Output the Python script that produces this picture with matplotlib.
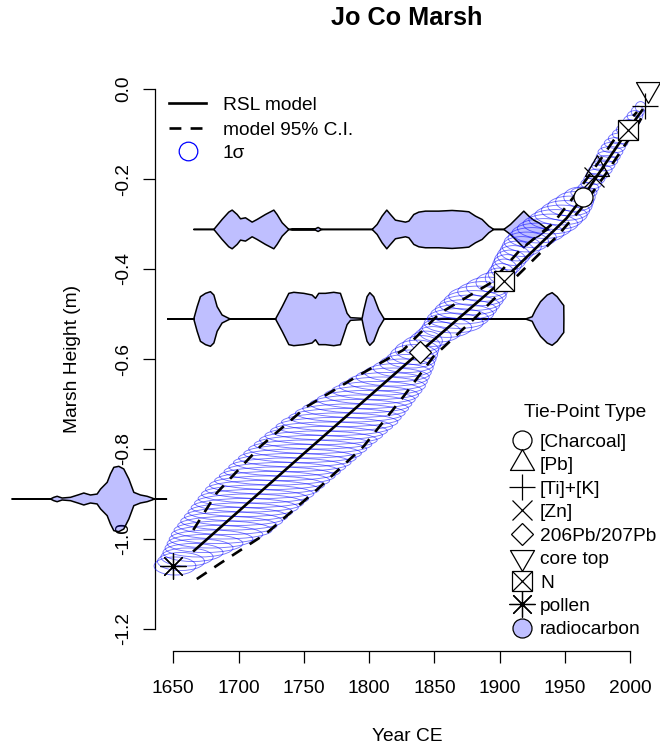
import numpy as np
import matplotlib

matplotlib.use("Agg")
import matplotlib.pyplot as plt
from matplotlib.patches import Ellipse
from matplotlib.lines import Line2D

plt.rcParams["font.family"] = ["Liberation Sans", "DejaVu Sans"]
plt.rcParams["axes.unicode_minus"] = False

W, H = 660, 744          # output size in pixels
FS = 13.8                # body text size
FILL = (0, 0, 1, 0.25)   # lavender fill of the calibrated 14C densities

# ---------------- data ----------------
# sample heights (m) with modelled age (yr CE) and 1-sigma ellipse half-axes
SAMPLE_H = [-1.06, -1.05, -1.04, -1.03, -1.02, -1.01, -1.00, -0.99, -0.98, -0.97,
            -0.96, -0.95, -0.94, -0.93, -0.92, -0.91, -0.90, -0.89, -0.88, -0.87,
            -0.86, -0.85, -0.84, -0.83, -0.82, -0.81, -0.80, -0.79, -0.78, -0.77,
            -0.76, -0.75, -0.74, -0.73, -0.72, -0.71, -0.70, -0.69, -0.68, -0.67,
            -0.66, -0.65, -0.64, -0.63, -0.62, -0.61, -0.60, -0.59, -0.58, -0.57,
            -0.56, -0.55, -0.54, -0.53, -0.52, -0.51, -0.50, -0.49, -0.48, -0.47,
            -0.46, -0.45, -0.44, -0.43, -0.42, -0.41, -0.40, -0.39, -0.38, -0.37,
            -0.36, -0.35, -0.34, -0.33, -0.32, -0.31, -0.30, -0.29, -0.28, -0.27,
            -0.26, -0.25, -0.24, -0.23, -0.22, -0.21, -0.20, -0.19, -0.18, -0.17,
            -0.16, -0.15, -0.14, -0.13, -0.12, -0.11, -0.10, -0.09, -0.08, -0.07,
            -0.06, -0.05, -0.04]
SAMPLE_AGE = [1651.3, 1655.9, 1660.5, 1665.1, 1669.7, 1674.3, 1678.9, 1683.5, 1688.1, 1691.4,
              1694.7, 1698.0, 1701.3, 1704.7, 1708.0, 1711.3, 1714.6, 1718.2, 1721.8, 1725.7,
              1729.6, 1733.4, 1737.2, 1741.1, 1745.0, 1749.0, 1752.9, 1757.0, 1761.1, 1765.2,
              1769.2, 1773.3, 1777.4, 1781.5, 1785.5, 1789.6, 1793.6, 1797.7, 1801.8, 1805.9,
              1810.0, 1814.0, 1818.0, 1822.0, 1826.0, 1829.1, 1832.2, 1834.4, 1836.6, 1840.0,
              1843.5, 1848.8, 1854.2, 1859.5, 1864.7, 1868.0, 1871.2, 1874.1, 1877.0, 1880.0,
              1882.9, 1886.8, 1890.8, 1894.8, 1898.9, 1901.1, 1903.3, 1905.6, 1908.0, 1910.6,
              1913.2, 1916.8, 1920.4, 1924.8, 1929.3, 1934.0, 1938.8, 1942.8, 1946.9, 1950.3,
              1953.7, 1957.3, 1961.0, 1964.4, 1967.8, 1970.1, 1972.4, 1974.7, 1977.0, 1979.1,
              1981.3, 1983.0, 1984.7, 1986.8, 1989.0, 1991.6, 1994.2, 1996.7, 1999.2, 2001.3,
              2003.5, 2005.6, 2007.8]
SAMPLE_AGE_SD = [16, 18, 20, 23, 26, 29, 32, 35, 37.5, 38,
                 39, 39.5, 40, 41, 41.7, 42.3, 43, 43.5, 44, 44,
                 44.3, 44.5, 44.7, 45, 45, 45, 45.2, 45, 45, 45,
                 44.7, 44.6, 44.5, 43, 42, 40.5, 39, 37.5, 36, 34.5,
                 33, 30.5, 28, 25.5, 23, 21, 19, 18, 16.6, 14.5,
                 12.5, 14, 16, 19, 22.6, 23.5, 24, 23.5, 23, 22.5,
                 22, 19, 16.5, 13, 10, 10, 10, 11, 12, 12.5,
                 13, 15, 17, 18.5, 20, 20.5, 21, 20.5, 20, 18.5,
                 17, 14.5, 12, 10, 8, 8, 8, 8.5, 9, 9,
                 9, 9.2, 9.5, 9.2, 9, 8.5, 8, 7.5, 7, 6.5,
                 6, 5, 4]
SAMPLE_H_SD = [0.020] * 47 + [0.022] * 36 + [0.012] * 20

# RSL model and its 95% interval
RSL_YEAR = [1665.9, 1750.0, 1838.9, 1902.7, 1951.2, 1963.7, 1998.2, 2009.0]
RSL_H = [-1.026, -0.810, -0.584, -0.424, -0.287, -0.240, -0.091, -0.047]
UPPER_YEAR = [1665.3, 1683.2, 1716.4, 1752.1, 1790.4, 1826.1, 1854.2, 1892.5, 1915.5,
              1941.0, 1957.6, 1976.8, 1993.6, 2005.1]
UPPER_H = [-0.980, -0.898, -0.795, -0.706, -0.639, -0.580, -0.498, -0.432, -0.358,
           -0.298, -0.236, -0.158, -0.087, -0.051]
LOWER_YEAR = [1668.0, 1686.0, 1721.5, 1759.8, 1795.5, 1826.1, 1849.1, 1879.5, 1915.5,
              1943.6, 1961.4, 1980.6, 1999.8, 2009.0]
LOWER_H = [-1.089, -1.054, -0.987, -0.891, -0.795, -0.684, -0.595, -0.513, -0.409,
           -0.328, -0.269, -0.191, -0.107, -0.062]

# calibrated radiocarbon age densities (year, half width in m) at sample height
C14_H = [-0.311, -0.510, -0.910]
C14_YEAR = [
    [1665.3, 1680.7, 1687.0, 1692.1, 1694.7, 1698.5, 1701.1, 1704.9, 1710.0, 1713.8,
     1720.2, 1726.6, 1729.1, 1733.0, 1738.1, 1740.6, 1758.5, 1760.5, 1762.3, 1764.1,
     1801.9, 1805.7, 1809.5, 1813.1, 1815.9, 1819.7, 1823.6, 1827.4, 1830.0, 1833.8,
     1837.6, 1842.7, 1852.9, 1863.1, 1870.8, 1875.9, 1881.0, 1886.1, 1891.2, 1895.0,
     1902.7, 1907.8, 1914.2, 1918.0, 1921.8, 1925.6, 1929.5, 1934.6, 1937.1],
    [1645.4, 1665.3, 1667.9, 1670.4, 1674.3, 1678.1, 1680.7, 1683.2, 1687.0, 1692.1,
     1693.4, 1727.9, 1733.0, 1738.1, 1741.9, 1749.6, 1755.9, 1758.5, 1761.0, 1766.1,
     1772.5, 1777.6, 1780.2, 1782.7, 1785.3, 1794.2, 1795.5, 1798.0, 1800.1, 1803.1,
     1807.0, 1810.8, 1812.1, 1919.3, 1924.4, 1926.9, 1930.8, 1935.9, 1939.7, 1943.5,
     1947.3, 1948.6, 1948.7],
    [1526.2, 1555.6, 1558.1, 1560.7, 1564.5, 1570.9, 1577.3, 1581.1, 1586.2, 1591.3,
     1593.9, 1599.0, 1601.5, 1604.1, 1607.9, 1611.7, 1615.6, 1619.4, 1624.5, 1629.6,
     1633.4, 1635.2, 1644.4],
]
C14_HALF = [
    [0, 0, 0.0222, 0.0385, 0.0430, 0.0333, 0.0237, 0.0259, 0.0163, 0.0222,
     0.0333, 0.0430, 0.0333, 0.0148, 0, 0.0015, 0.0015, 0.0045, 0.0015, 0,
     0, 0.0111, 0.0296, 0.0430, 0.0333, 0.0207, 0.0185, 0.0163, 0.0185, 0.0333,
     0.0385, 0.0407, 0.0407, 0.0422, 0.0407, 0.0393, 0.0296, 0.0222, 0.0074, 0,
     0, 0.0111, 0.0296, 0.0407, 0.0296, 0.0207, 0.0148, 0.0037, 0],
    [0, 0, 0.0274, 0.0496, 0.0570, 0.0607, 0.0533, 0.0274, 0.0089, 0.0015,
     0, 0, 0.0274, 0.0570, 0.0593, 0.0570, 0.0533, 0.0460, 0.0570, 0.0570,
     0.0593, 0.0570, 0.0348, 0.0126, 0.0030, 0.0015, 0.0200, 0.0496, 0.0585, 0.0496,
     0.0200, 0.0015, 0, 0, 0.0050, 0.0200, 0.0385, 0.0533, 0.0585, 0.0496,
     0.0348, 0.0300, 0],
    [0, 0, 0.0037, 0.0060, 0.0022, 0.0037, 0.0096, 0.0133, 0.0089, 0.0110,
     0.0220, 0.0370, 0.0556, 0.0704, 0.0726, 0.0667, 0.0444, 0.0148, 0.0089, 0.0060,
     0.0022, 0, 0],
]

# tie points
TIE_KIND = ["[Charcoal]", "[Pb]", "[Zn]", "[Ti]+[K]", "206Pb/207Pb", "core top", "N", "N", "pollen"]
TIE_YEAR = [1963.6, 1974.7, 1972.0, 2011.3, 1838.9, 2013.5, 1903.1, 1998.0, 1650.0]
TIE_H = [-0.241, -0.178, -0.196, -0.037, -0.584, 0.000, -0.426, -0.091, -1.060]
LEGEND_KINDS = ["[Charcoal]", "[Pb]", "[Ti]+[K]", "[Zn]", "206Pb/207Pb",
                "core top", "N", "pollen", "radiocarbon"]

X_TICKS = [1650, 1700, 1750, 1800, 1850, 1900, 1950, 2000]
Y_TICKS = [-1.2, -1.0, -0.8, -0.6, -0.4, -0.2, 0.0]

# ---------------- marker styles (R pch look-alikes) ----------------
TRI_UP = [(0, 1), (-0.866, -0.5), (0.866, -0.5), (0, 1)]
TRI_DN = [(0, -1), (-0.866, 0.5), (0.866, 0.5), (0, -1)]
MEW = 0.9
STYLE = {
    "[Charcoal]": [dict(marker="o", ms=13.7, mfc="white")],
    "[Pb]": [dict(marker=TRI_UP, ms=20, mfc="none")],
    "[Ti]+[K]": [dict(marker="+", ms=18.7)],
    "[Zn]": [dict(marker="x", ms=13.7)],
    "206Pb/207Pb": [dict(marker="D", ms=11.7, mfc="white")],
    "core top": [dict(marker=TRI_DN, ms=20, mfc="none")],
    "N": [dict(marker="s", ms=13.7, mfc="white"), dict(marker="x", ms=13.7)],
    "pollen": [dict(marker=(8, 2, 0), ms=18.7)],
    "radiocarbon": [dict(marker="o", ms=13.7, mfc="#bfbfff")],
}


def draw_marker(ax, x, y, kind, **kw):
    for st in STYLE[kind]:
        ax.plot([x], [y], ls="none", color="black", mec="black", mew=MEW,
                clip_on=False, **st, **kw)


def fx(px):
    return px / W


def fy(py):
    return 1 - py / H


fig = plt.figure(figsize=(W / 100, H / 100), dpi=100)
ax = fig.add_axes([fx(155), fy(651), fx(660) - fx(155), fy(67) - fy(651)])
ax.set_xlim(1636.0, 2022.67)
ax.set_ylim(-1.2489, 0.0489)

# calibrated 14C densities (drawn first, spill into the margin)
for h, yrs, half in zip(C14_H, C14_YEAR, C14_HALF):
    yrs = np.array(yrs)
    half = np.array(half)
    ax.fill_between(yrs, h - half, h + half, facecolor=FILL, edgecolor="black",
                    lw=1.1, zorder=3, clip_on=False)

# 1-sigma ellipses
for age, hh, sa, sh in zip(SAMPLE_AGE, SAMPLE_H, SAMPLE_AGE_SD, SAMPLE_H_SD):
    ax.add_patch(Ellipse((age, hh), 2 * sa, 2 * sh, fill=False,
                         edgecolor=(0, 0, 1, 0.55), lw=0.65, zorder=4, clip_on=False))

# model
ax.plot(RSL_YEAR, RSL_H, color="black", lw=1.9, zorder=5)
for xs, ys in ((UPPER_YEAR, UPPER_H), (LOWER_YEAR, LOWER_H)):
    ax.plot(xs, ys, color="black", lw=1.9, dashes=(4.5, 3.5), zorder=5)

# tie points
for kind, x, y in zip(TIE_KIND, TIE_YEAR, TIE_H):
    draw_marker(ax, x, y, kind, zorder=6)

# axes in R style
for s in ("top", "right"):
    ax.spines[s].set_visible(False)
ax.spines["left"].set_bounds(Y_TICKS[0], Y_TICKS[-1])
ax.spines["bottom"].set_bounds(X_TICKS[0], X_TICKS[-1])
for s in ("left", "bottom"):
    ax.spines[s].set_linewidth(0.9)
ax.set_xticks(X_TICKS)
ax.set_xticklabels([str(t) for t in X_TICKS])
ax.set_yticks(Y_TICKS)
ax.set_yticklabels([f"{t:.1f}" for t in Y_TICKS], rotation=90, va="center")
ax.tick_params(axis="both", direction="out", length=8.6, width=0.9, labelsize=FS)
ax.tick_params(axis="x", pad=12)
ax.tick_params(axis="y", pad=8)
ax.patch.set_visible(False)

fig.text(fx(407), fy(18), "Jo Co Marsh", ha="center", va="center",
         fontsize=18.2, fontweight="bold")
fig.text(fx(407), fy(740.7), "Year CE", ha="center", va="baseline", fontsize=FS)
fig.text(fx(72.5), fy(359), "Marsh Height (m)", ha="center", va="center",
         rotation=90, fontsize=FS)

# legend: model
row1 = [103.3, 128.3, 150.7]
fig.add_artist(Line2D([fx(169), fx(206)], [fy(row1[0])] * 2, color="black", lw=1.9))
fig.add_artist(Line2D([fx(169), fx(206)], [fy(row1[1])] * 2, color="black", lw=1.9,
                      dashes=(4.5, 3.5)))
fig.add_artist(Line2D([fx(187.7)], [fy(row1[2])], ls="none", marker="o", ms=13.4,
                      mfc="none", mec="blue", mew=0.9))
for yy, lab in zip(row1, ["RSL model", "model 95% C.I.", "1σ"]):
    fig.text(fx(223), fy(yy + 6.9), lab, ha="left", va="baseline", fontsize=FS)

# legend: tie-point type
fig.text(fx(585), fy(410 + 6.9), "Tie-Point Type", ha="center", va="baseline", fontsize=FS)
for i, kind in enumerate(LEGEND_KINDS):
    yy = 440 + 23.45 * i
    for st in STYLE[kind]:
        fig.add_artist(Line2D([fx(521.7)], [fy(yy)], ls="none", color="black",
                              mec="black", mew=MEW, **st))
    fig.text(fx(540), fy(yy + 6.9), kind, ha="left", va="baseline", fontsize=FS)

fig.savefig("out.png", dpi=100)
